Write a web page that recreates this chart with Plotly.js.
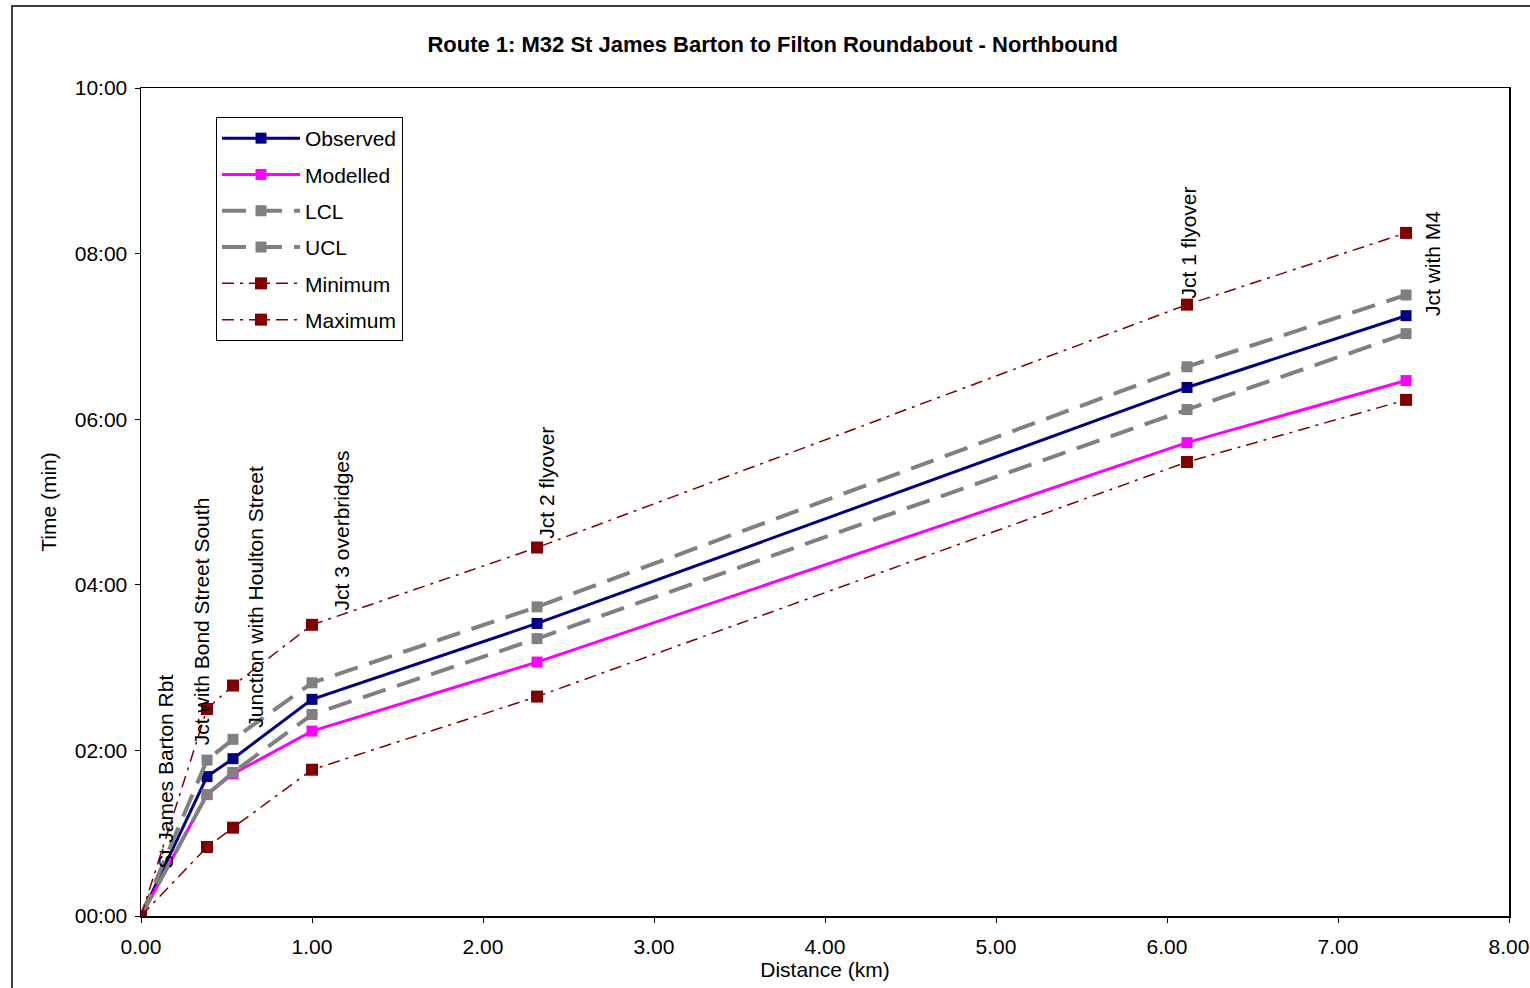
<!DOCTYPE html>
<html>
<head>
<meta charset="utf-8">
<script src="https://cdn.plot.ly/plotly-3.0.1.min.js"></script>
<style>
  html, body { margin: 0; padding: 0; background: #fff; }
  #chart { width: 1530px; height: 988px; }
</style>
</head>
<body>
<div id="chart"></div>
<script>
// Distance along route (km)
const distance = [0.00, 0.386, 0.538, 1.00, 2.316, 6.117, 7.398];
// Cumulative journey times (seconds)
const observed = [0, 101, 114, 157, 212, 383, 435];
const modelled = [0, 88, 103, 134, 184, 343, 388];
const lcl      = [0, 88, 104, 146, 201, 367, 422];
const ucl      = [0, 113, 128, 169, 224, 398, 450];
const minimum  = [0, 50, 64, 106, 159, 329, 374];
const maximum  = [0, 150, 167, 211, 267, 443, 495];
// Timing point labels
const pointLabels = ["St James Barton Rbt", "Jct with Bond Street South", "Junction with Houlton Street",
                     "Jct 3 overbridges", "Jct 2 flyover", "Jct 1 flyover", "Jct with M4"];
// Y axis ticks
const yTickVals = [0, 120, 240, 360, 480, 600];
const yTickText = ["00:00", "02:00", "04:00", "06:00", "08:00", "10:00"];

const FONT = "Liberation Sans, Arial, sans-serif";

function mkTrace(name, y, color, width, dash, msize, grp) {
  return {
    x: distance, y: y, name: name, type: "scatter", mode: "lines+markers",
    legendgroup: grp,
    line: { color: color, width: width, dash: dash },
    marker: { symbol: "square", size: msize, color: color }
  };
}

const traces = [
  mkTrace("Observed", observed, "#000080", 3, "solid", 11, "g1"),
  mkTrace("Modelled", modelled, "#FF00FF", 3, "solid", 11, "g2"),
  mkTrace("LCL", lcl, "#808080", 4, "24px,12px", 11, "g3"),
  mkTrace("UCL", ucl, "#808080", 4, "24px,12px", 11, "g4"),
  mkTrace("Minimum", minimum, "#800000", 1.5, "12px,6px,3px,6px", 12, "g5"),
  mkTrace("Maximum", maximum, "#800000", 1.5, "12px,6px,3px,6px", 12, "g6")
];

// label placement (layout only): pixel shift from the timing point and bottom level (seconds)
const labelShift = [24, -6, 23, 29, 10, 2, 27];
const labelBottom = [33, 122, 135, 220, 272, 446, 433];
const annotations = pointLabels.map((t, i) => ({
  x: distance[i], y: labelBottom[i], xref: "x", yref: "y",
  text: t, textangle: -90, showarrow: false,
  xanchor: "center", yanchor: "bottom", xshift: labelShift[i],
  font: { family: FONT, size: 21, color: "#000" }
}));

const layout = {
  width: 1530, height: 988,
  paper_bgcolor: "#fff", plot_bgcolor: "#fff",
  margin: { l: 141, r: 21, t: 88, b: 72 },
  font: { family: FONT, size: 20, color: "#000" },
  title: {
    text: "<b>Route 1: M32 St James Barton to Filton Roundabout - Northbound</b>",
    font: { family: FONT, size: 22, color: "#000" },
    xref: "container", yref: "container", x: 0.505, y: 1 - 44 / 988,
    xanchor: "center", yanchor: "middle"
  },
  xaxis: {
    range: [0, 8], dtick: 1, tick0: 0, tickformat: ".2f",
    showgrid: false, zeroline: false,
    showline: true, linecolor: "#000", linewidth: 1.5, mirror: true,
    ticks: "outside", ticklen: 5, tickcolor: "#000",
    ticklabelstandoff: 6,
    tickfont: { family: FONT, size: 21 },
    title: { text: "Distance (km)", font: { family: FONT, size: 21 }, standoff: 0 }
  },
  yaxis: {
    range: [0, 600], tickvals: yTickVals, ticktext: yTickText,
    showgrid: false, zeroline: false,
    showline: true, linecolor: "#000", linewidth: 1.5, mirror: true,
    ticks: "outside", ticklen: 5, tickcolor: "#000",
    ticklabelstandoff: 3,
    tickfont: { family: FONT, size: 21 },
    title: { text: "Time (min)", font: { family: FONT, size: 21 }, standoff: 12 }
  },
  legend: {
    x: (216 - 141) / 1368, y: (916 - 117) / 828, xanchor: "left", yanchor: "top",
    bgcolor: "#fff", bordercolor: "#000", borderwidth: 1,
    tracegroupgap: 6, itemwidth: 78,
    font: { family: FONT, size: 21 }
  },
  annotations: annotations,
  shapes: [{
    type: "rect", xref: "paper", yref: "paper",
    x0: (12 - 141) / 1368, x1: 1.2, y0: -0.3, y1: (916 - 6) / 828,
    line: { color: "#000", width: 1.5 }, fillcolor: "rgba(0,0,0,0)", layer: "below"
  }],
  showlegend: true
};

Plotly.newPlot("chart", traces, layout, { displayModeBar: false, staticPlot: true });
</script>
</body>
</html>
